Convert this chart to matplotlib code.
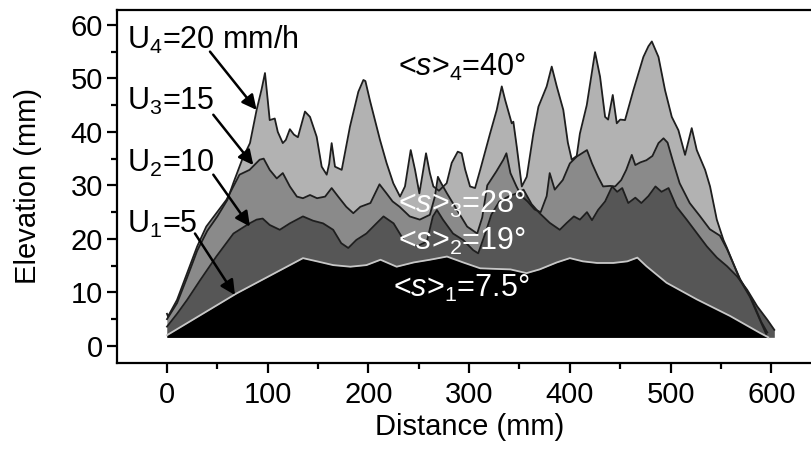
import matplotlib
matplotlib.use("Agg")
import matplotlib.pyplot as plt
import numpy as np
from matplotlib.ticker import MultipleLocator

plt.rcParams["font.family"] = ["Liberation Sans", "DejaVu Sans"]
plt.rcParams["mathtext.fontset"] = "custom"
plt.rcParams["mathtext.rm"] = "Liberation Sans"
plt.rcParams["mathtext.it"] = "Liberation Sans:italic"

BASE = 1.6

# surface profiles (distance mm, elevation mm)
u1_x = [0, 69, 135, 149, 165, 182, 198, 212, 228, 245, 261, 278, 294, 311, 325, 341,
        357, 370, 387, 400, 413, 427, 443, 457, 467, 476, 496, 526, 559, 589, 597]
u1_y = [2.0, 9.8, 16.4, 15.8, 15.1, 14.8, 15.1, 16.1, 14.8, 15.6, 16.1, 16.7, 15.6, 14.5, 14.4, 14.3,
        13.6, 14.3, 15.6, 16.4, 15.8, 15.5, 15.5, 15.8, 16.5, 14.9, 11.8, 8.7, 5.6, 2.4, 1.6]

u2_x = [0, 10, 20, 33, 49, 66, 82, 89, 95, 102, 112, 122, 135, 145, 155, 165, 173, 180, 188,
        198, 208, 215, 225, 235, 248, 258, 264, 268, 274, 284, 294, 304, 309, 316, 322, 330,
        340, 347, 354, 362, 370, 380, 390, 397, 404, 410, 417, 422, 428, 435, 442, 447, 452,
        458, 465, 471, 478, 485, 491, 498, 506, 516, 526, 536, 546, 556, 566, 576, 586, 596, 603]
u2_y = [3.6, 6.0, 8.6, 12.3, 16.7, 21.0, 22.9, 23.6, 23.8, 22.6, 21.7, 22.9, 24.2, 23.4, 22.9,
        21.7, 19.2, 18.3, 19.8, 21.0, 22.9, 24.2, 22.9, 19.8, 18.6, 19.5, 24.2, 25.4, 23.6, 21.0,
        19.8, 17.9, 17.3, 21.0, 24.5, 27.0, 28.0, 28.5, 29.2, 26.5, 24.8, 23.0, 21.7, 23.0, 24.2,
        23.6, 25.0, 23.5, 25.4, 27.0, 29.8, 28.8, 29.5, 26.7, 27.7, 26.7, 28.0, 29.8, 28.8, 29.5,
        26.0, 23.6, 21.1, 18.6, 16.5, 14.9, 13.0, 10.5, 7.4, 4.9, 3.0]

u3_x = [0, 1, 10, 20, 30, 39, 49, 59, 72, 82, 92, 96, 102, 109, 115, 122, 129, 135, 142, 149,
        157, 163.5, 170, 178, 185, 192, 202, 211, 218, 224, 231, 241, 251, 261, 266, 269, 272,
        278, 288, 298, 308, 313, 318, 327, 334, 337, 341, 347, 352, 358, 365, 371, 377, 380,
        385, 393, 400, 407, 417, 422, 428, 433, 440, 445, 451, 456, 461.5, 465, 470, 476, 482,
        488, 493, 497, 503, 509, 519, 529, 539, 549, 556, 569, 579, 590, 596]
u3_y = [6.0, 5.5, 8.6, 13.6, 18.6, 22.3, 24.8, 27.3, 32.0, 32.9, 34.8, 35.0, 32.9, 31.3, 32.3,
        29.8, 27.9, 27.6, 28.2, 27.6, 27.9, 29.5, 27.9, 26.0, 24.8, 26.0, 26.7, 30.2, 28.5, 27.0,
        26.0, 24.2, 23.6, 24.5, 27.9, 31.6, 30.5, 28.5, 25.4, 22.3, 21.0, 24.0, 30.0, 32.6, 34.8,
        36.0, 32.3, 29.8, 28.0, 27.0, 25.5, 25.0, 28.0, 32.3, 29.2, 31.0, 34.1, 35.4, 36.6, 34.1,
        31.6, 29.8, 29.9, 29.8, 31.0, 32.9, 35.7, 33.8, 34.3, 34.7, 35.5, 37.9, 38.8, 38.0, 34.1,
        30.4, 26.7, 24.3, 21.8, 20.6, 18.1, 12.5, 9.3, 4.5, 2.5]

u4_x = [0, 10, 20, 30, 40, 50, 60, 66, 75, 82.4, 89, 94, 97.3, 100, 102, 107, 110, 115, 118,
        122, 126, 130, 137, 142, 148.6, 153.6, 158.6, 161, 163.5, 166.8, 173.5, 181.7, 190, 195,
        197, 201.6, 211.5, 218, 224.7, 231.4, 236.3, 242, 246.3, 250.6, 257.2, 261, 264.5, 270,
        277.7, 282.7, 288.7, 292.6, 296, 300.9, 305.9, 311, 320.8, 327.4, 332.4, 335.7, 342.3,
        343.9, 347.3, 352.3, 357.2, 363.8, 368.8, 377, 382, 387, 393.5, 398, 401.9, 406.8, 410,
        416.8, 421.7, 425, 430, 435, 438, 442.6, 446.6, 450, 454.8, 463.1, 473, 478, 481.4, 488,
        494.5, 501.2, 507.8, 514.4, 521, 526, 534.3, 539.2, 545.9, 552.5, 555.8, 569, 579, 590, 595]
u4_y = [5.0, 8.0, 12.8, 17.8, 21.5, 24.2, 27.3, 30.5, 35.0, 37.9, 44.1, 48.0, 51.0, 46.0, 42.2,
        42.5, 40.0, 37.9, 38.5, 40.5, 39.5, 39.0, 43.8, 42.8, 39.1, 33.5, 32.0, 34.0, 37.9, 33.5,
        32.9, 41.0, 47.5, 49.7, 49.5, 45.8, 38.5, 34.2, 30.4, 27.9, 29.8, 36.6, 32.9, 28.5, 36.0,
        32.3, 29.8, 29.0, 30.4, 34.2, 36.3, 36.0, 33.0, 29.8, 29.5, 32.9, 39.7, 44.1, 48.5, 46.0,
        41.6, 41.9, 37.2, 29.8, 31.6, 39.7, 44.7, 48.5, 52.2, 48.5, 44.1, 38.0, 34.8, 35.5, 39.7,
        45.0, 50.9, 54.9, 50.3, 42.8, 42.3, 46.9, 41.6, 42.3, 42.2, 47.8, 54.0, 56.0, 56.9, 54.0,
        47.8, 42.8, 40.3, 35.7, 40.7, 36.6, 32.9, 29.8, 23.6, 19.8, 18.4, 12.3, 9.1, 4.3, 2.2]

surfaces = [
    (u4_x, u4_y, "#b2b2b2", "#1e1e1e"),
    (u3_x, u3_y, "#8a8a8a", "#1e1e1e"),
    (u2_x, u2_y, "#565656", "#1e1e1e"),
    (u1_x, u1_y, "#000000", "#c8c8c8"),
]

rate_labels = ["U$_4$=20 mm/h", "U$_3$=15", "U$_2$=10", "U$_1$=5"]
rate_text_y = [55.6, 44.1, 32.6, 21.1]
arrow_tails = [(42.7, 55.0), (46.0, 43.2), (46.0, 32.0), (27.8, 21.0)]
arrow_tips = [(89.0, 44.1), (85.7, 33.8), (82.4, 22.3), (67.5, 9.5)]

slope_labels = [r"<$\mathit{s}$>$_4$=40°", r"<$\mathit{s}$>$_3$=28°",
                r"<$\mathit{s}$>$_2$=19°", r"<$\mathit{s}$>$_1$=7.5°"]
slope_pos = [(229, 50.4), (229, 24.9), (229, 18.0), (224, 9.2)]
slope_colors = ["black", "white", "white", "white"]

fig = plt.figure(figsize=(8.12, 4.58), dpi=100)
ax = fig.add_axes([0.144, 0.2074, 0.884, 0.771])

for x, y, face, edge in surfaces:
    xs = np.r_[x[0], x, x[-1]]
    ys = np.r_[BASE, y, BASE]
    ax.fill_between(xs, BASE, ys, color=face, linewidth=0, zorder=2)
    ax.plot(x, y, color=edge, linewidth=1.3, zorder=3)

for label, ty in zip(rate_labels, rate_text_y):
    ax.text(-40, ty, label, fontsize=22, ha="left", va="baseline", zorder=5)

for tail, tip in zip(arrow_tails, arrow_tips):
    ax.annotate("", xy=tip, xytext=tail, zorder=6,
                arrowprops=dict(arrowstyle="-|>", color="black", lw=1.8,
                                mutation_scale=22, shrinkA=0, shrinkB=0))

for label, (tx, ty), c in zip(slope_labels, slope_pos, slope_colors):
    ax.text(tx, ty, label, fontsize=22, color=c, ha="left", va="baseline", zorder=5)

ax.set_xlim(-49.7, 663)
ax.set_ylim(-3.2, 62.8)
ax.xaxis.set_minor_locator(MultipleLocator(50))
ax.yaxis.set_major_locator(MultipleLocator(10))
ax.yaxis.set_minor_locator(MultipleLocator(5))
ax.set_xticks(np.arange(0, 601, 100))
ax.tick_params(which="major", direction="out", length=7, width=1.6, labelsize=21)
ax.tick_params(which="minor", direction="out", length=4, width=1.6)
ax.tick_params(axis="x", pad=6)
ax.tick_params(axis="y", pad=3)
for s in ax.spines.values():
    s.set_linewidth(1.6)

ax.set_xlabel("Distance (mm)", fontsize=21)
ax.set_ylabel("Elevation (mm)", fontsize=21)
ax.xaxis.set_label_coords(0.4916, -0.142)
ax.yaxis.set_label_coords(-0.104, 0.5)

fig.savefig("out.png", dpi=100)
